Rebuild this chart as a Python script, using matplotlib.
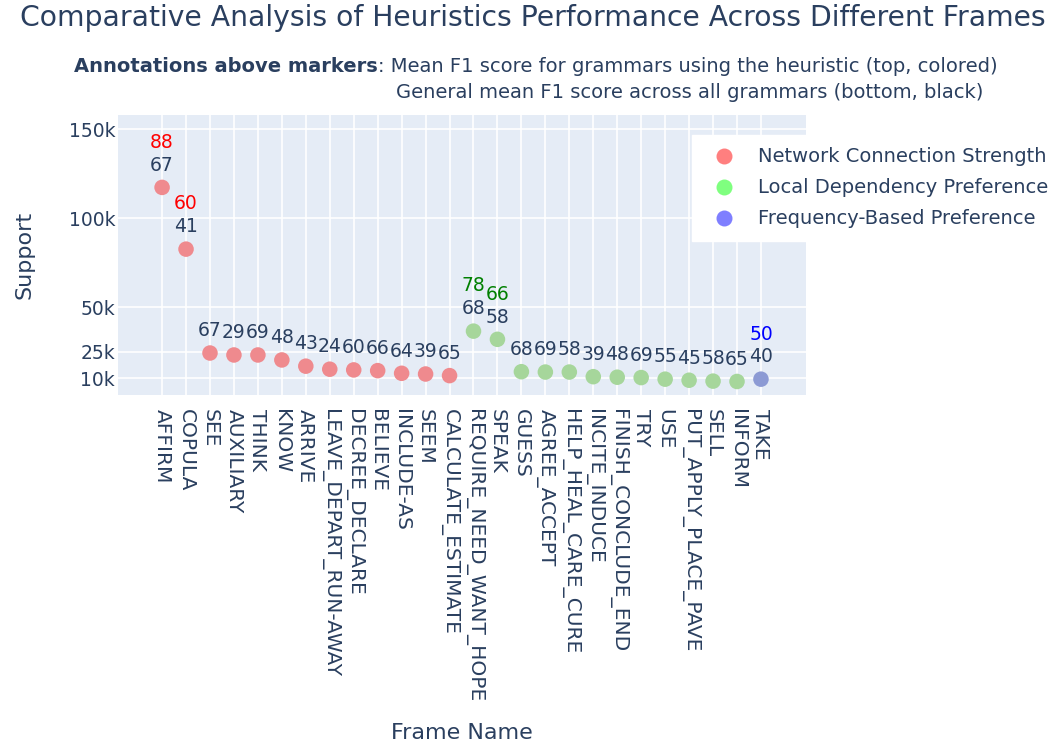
import matplotlib.pyplot as plt
from matplotlib.lines import Line2D

# Données
frames = ["AFFIRM", "COPULA", "SEE", "AUXILIARY", "THINK", "KNOW", "ARRIVE",
          "LEAVE_DEPART_RUN-AWAY", "DECREE_DECLARE", "BELIEVE", "INCLUDE-AS", "SEEM",
          "CALCULATE_ESTIMATE", "REQUIRE_NEED_WANT_HOPE", "SPEAK", "GUESS", "AGREE_ACCEPT",
          "HELP_HEAL_CARE_CURE", "INCITE_INDUCE", "FINISH_CONCLUDE_END", "TRY", "USE",
          "PUT_APPLY_PLACE_PAVE", "SELL", "INFORM", "TAKE"]
support = [117300, 82600, 24200, 23100, 23100, 20300, 16800, 15100, 14700, 14300,
           12800, 12400, 11500, 36500, 31900, 13700, 13500, 13500, 10900, 10600,
           10400, 9500, 8900, 8400, 8200, 9500]
heuristic = ["net"] * 13 + ["loc"] * 12 + ["freq"]
general_f1 = [67, 41, 67, 29, 69, 48, 43, 24, 60, 66, 64, 39, 65, 68, 58, 68, 69,
              58, 39, 48, 69, 55, 45, 58, 65, 40]
# score moyen pour les grammaires utilisant l'heuristique (seulement certains cadres)
heuristic_f1 = {"AFFIRM": 88, "COPULA": 60, "REQUIRE_NEED_WANT_HOPE": 78, "SPEAK": 66, "TAKE": 50}

yticks = [10000, 25000, 50000, 100000, 150000]
ytick_labels = ["10k", "25k", "50k", "100k", "150k"]

noms = {"net": "Network Connection Strength",
        "loc": "Local Dependency Preference",
        "freq": "Frequency-Based Preference"}
couleur_point = {"net": "#ef8a8e", "loc": "#a6d69b", "freq": "#8c9ad4"}
couleur_legende = {"net": "#ff7f7f", "loc": "#7fff7f", "freq": "#7f7fff"}
couleur_texte = {"net": "red", "loc": "green", "freq": "blue"}

txt = "#2a3f5f"
plt.rcParams["font.family"] = ["DejaVu Sans"]

fig = plt.figure(figsize=(10.53, 7.46), dpi=100)
ax = fig.add_axes([118 / 1053, 1 - 395 / 746, 688 / 1053, 280 / 746])
ax.set_facecolor("#e5ecf6")
for s in ax.spines.values():
    s.set_visible(False)

x = list(range(len(frames)))
ax.scatter(x, support, s=125, c=[couleur_point[h] for h in heuristic], zorder=3, linewidths=0)

for i, f in enumerate(frames):
    ax.annotate(str(general_f1[i]), (i, support[i]), xytext=(0, 16), textcoords="offset points",
                ha="center", va="center", fontsize=13.5, color=txt, zorder=4)
    if f in heuristic_f1:
        ax.annotate(str(heuristic_f1[f]), (i, support[i]), xytext=(0, 32.5), textcoords="offset points",
                    ha="center", va="center", fontsize=13.5, color=couleur_texte[heuristic[i]], zorder=4)

ax.set_xlim(-1.84, 26.88)
ax.set_ylim(600, 158000)
ax.set_xticks(x)
ax.set_xticklabels(frames, rotation=-90, ha="center", va="top", fontsize=14.5, color=txt)
ax.set_yticks(yticks)
ax.set_yticklabels(ytick_labels, fontsize=13.5, color=txt)
ax.tick_params(axis="y", length=0, pad=2)
ax.tick_params(axis="x", length=0, pad=10)
ax.grid(True, color="white", linewidth=1.2, zorder=0)
ax.set_axisbelow(True)

fig.text(462 / 1053, 1 - 733 / 746, "Frame Name", ha="center", va="center", fontsize=16, color=txt)
fig.text(25 / 1053, 1 - 255 / 746, "Support", ha="center", va="center", rotation=90, fontsize=16, color=txt)

fig.text(533 / 1053, 1 - 18 / 746, "Comparative Analysis of Heuristics Performance Across Different Frames",
         ha="center", va="center", fontsize=20.3, color=txt)
fig.text(378 / 1053, 1 - 67 / 746, "Annotations above markers", ha="right", va="center",
         fontsize=14, fontweight="bold", color=txt)
fig.text(378 / 1053, 1 - 67 / 746, ": Mean F1 score for grammars using the heuristic (top, colored)",
         ha="left", va="center", fontsize=14, color=txt)
fig.text(396 / 1053, 1 - 92 / 746, "General mean F1 score across all grammars (bottom, black)",
         ha="left", va="center", fontsize=14, color=txt)

handles = [Line2D([], [], marker="o", linestyle="", markersize=11.5, markeredgewidth=0,
                  color=couleur_legende[k]) for k in ["net", "loc", "freq"]]
leg = fig.legend(handles, [noms[k] for k in ["net", "loc", "freq"]], loc="upper left",
                 bbox_to_anchor=(682 / 1053, 1 - 125 / 746), frameon=True, fancybox=False,
                 facecolor="white", edgecolor="white", framealpha=1, fontsize=14,
                 labelcolor=txt, handletextpad=0.75, borderpad=0.65, labelspacing=0.62)

fig.savefig("out.png", dpi=100)
